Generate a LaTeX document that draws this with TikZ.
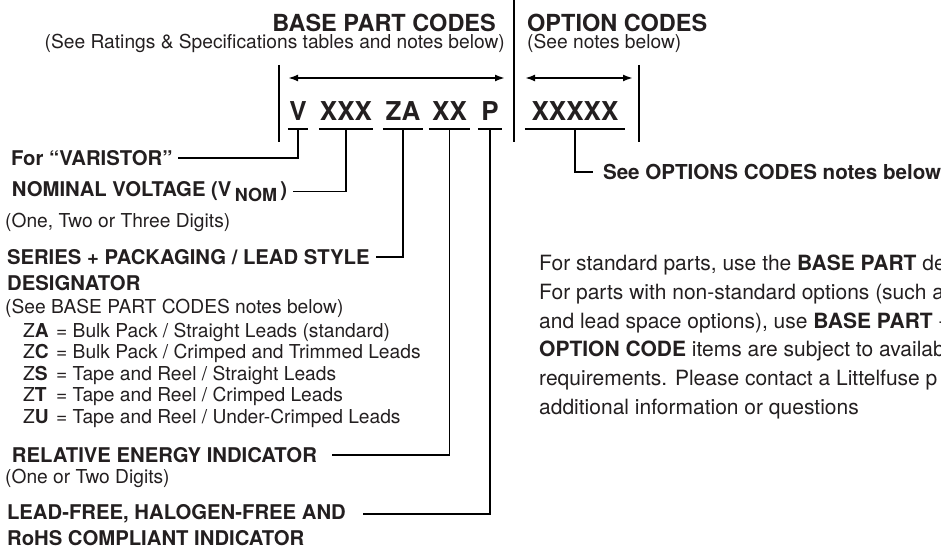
\documentclass[tikz,border=0pt]{standalone}
\usepackage{fontspec}
\setmainfont{TeX Gyre Heros}
\usepackage{xcolor}
\usetikzlibrary{arrows.meta,positioning}
\definecolor{ink}{RGB}{35,31,32}
\newcommand{\hdfont}{\fontsize{23.5}{28}\selectfont\bfseries}
\newcommand{\codefont}{\fontsize{26}{30}\selectfont\bfseries}
\newcommand{\lblfont}{\fontsize{20.3}{24}\selectfont\bfseries}
\newcommand{\bodyfont}{\fontsize{19.2}{21.5}\selectfont}
\newcommand{\notefont}{\fontsize{21}{28.7}\selectfont}
\newcommand{\zline}[2]{\makebox[33pt][l]{Z\textbf{#1}}= #2}
\tikzset{
	code/.style={anchor=base, inner xsep=0pt, inner ysep=8pt, text depth=0pt,
			minimum width=#1, font=\codefont, text=ink},
	lbl/.style={anchor=west, inner sep=0pt, outer xsep=6pt, font=\lblfont, text=ink},
	txt/.style={anchor=base west, inner sep=0pt, font=\bodyfont, text=ink},
	uline/.style={draw, line width=1.5pt, black},
	conn/.style={draw, line width=1.3pt, black},
	sep/.style={draw, line width=2pt, black},
	dim/.style={draw, line width=2pt, black, {Latex[length=10pt,width=7pt]}-{Latex[length=10pt,width=7pt]}}
}

\begin{document}
\begin{tikzpicture}[x=1pt, y=-1pt]
  \useasboundingbox (0,0) rectangle (941,556);

  % Headers
  \node[anchor=base east, inner sep=0pt, font=\hdfont, text=ink] (basehd) at (496,32) {BASE PART CODES};
  \node[anchor=base east, inner sep=0pt, font=\bodyfont, text=ink] (basesub) at (505,49) {(See Ratings \& Specifications tables and notes below)};
  \node[anchor=base west, inner sep=0pt, font=\hdfont, text=ink] (opthd) at (527,32) {OPTION CODES};
  \node[anchor=base west, inner sep=0pt, font=\bodyfont, text=ink] (optsub) at (527,49) {(See notes below)};

  % Separators and extents
  \draw[sep] (279,65) -- (279,142);
  \draw[sep] (514,0) -- (514,142);
  \draw[sep] (639,65) -- (639,142);
  \coordinate (bl) at (288,78);
  \coordinate (br) at (505,78);
  \coordinate (ol) at (525,78);
  \coordinate (or) at (633,78);
  \draw[dim] (bl) -- (br);
  \draw[dim] (ol) -- (or);

  % Code letters
  \node[code=20pt] (v)    at (298,121) {V};
  \node[code=54pt] (volt) at (346,121) {XXX};
  \node[code=40pt] (za)   at (403,121) {ZA};
  \node[code=41pt] (xx)   at (449.5,121) {XX};
  \node[code=24pt] (p)    at (490,121) {P};
  \node[code=100pt] (opt) at (575,121) {XXXXX};
  \foreach \c in {v,volt,za,xx,p,opt}
    \draw[uline] (\c.south west) -- (\c.south east);

  % Labels
  \node[lbl] (varistor) at (5,158) {For “VARISTOR”};
  \node[lbl] (nominal) at (6,191.5) {NOMINAL VOLTAGE (V\,\raisebox{-5pt}{\fontsize{18}{18}\selectfont NOM}\,)};
  \node[txt] (digits) at (5,227) {(One, Two or Three Digits)};
  \node[lbl] (series) at (1,257) {SERIES + PACKAGING / LEAD STYLE};
  \node[txt, font=\lblfont] (desig) at (7,290) {DESIGNATOR};
  \node[txt] (seebase) at (5,313) {(See BASE PART CODES notes below)};
  \node[txt] (zA) at (23,337) {\zline{A}{Bulk Pack / Straight Leads (standard)}};
  \node[txt] (zC) at (23,358) {\zline{C}{Bulk Pack / Crimped and Trimmed Leads}};
  \node[txt] (zS) at (23,380) {\zline{S}{Tape and Reel / Straight Leads}};
  \node[txt] (zT) at (23,401) {\zline{T}{Tape and Reel / Crimped Leads}};
  \node[txt] (zU) at (23,423) {\zline{U}{Tape and Reel / Under-Crimped Leads}};
  \node[lbl, outer xsep=15pt] (energy) at (-3,455) {RELATIVE ENERGY INDICATOR};
  \node[txt] (energydig) at (5,483) {(One or Two Digits)};
  \node[lbl, outer xsep=17pt] (leadfree) at (-10,514) {LEAD-FREE, HALOGEN-FREE AND};
  \node[txt, font=\lblfont] (rohs) at (7,545) {RoHS COMPLIANT INDICATOR};
  \node[lbl, outer xsep=10pt, font=\fontsize{20.6}{24}\selectfont\bfseries] (optnote) at (593,172) {See OPTIONS CODES notes below};

  % Note
  \node[anchor=north west, align=left, inner sep=0pt, font=\notefont, text=ink] (note) at (539,255) {For standard parts, use the \textbf{BASE PART} de\\
    For parts with non-standard options (such a\\
    and lead space options), use \textbf{BASE PART} -\\
    \textbf{OPTION CODE} items are subject to availab\\
    requirements. Please contact a Littelfuse p\\
    additional information or questions};

  % Connectors
  \draw[conn] (v.south) |- (varistor.east);
  \draw[conn] (volt.south) |- (nominal.east);
  \draw[conn] (za.south) |- (series.east);
  \draw[conn] (xx.south) |- (energy.east);
  \draw[conn] (p.south) |- (leadfree.east);
  \draw[conn] (opt.south) |- (optnote.west);
\end{tikzpicture}
\end{document}
